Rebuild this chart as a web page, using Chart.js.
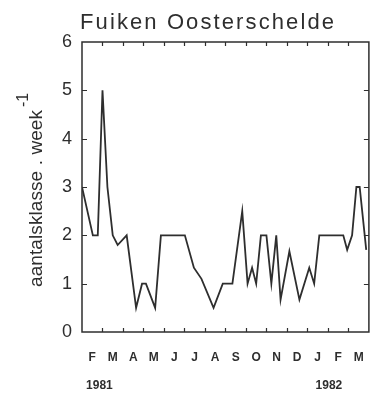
<!DOCTYPE html>
<html>
<head>
<meta charset="utf-8">
<script src="https://cdn.jsdelivr.net/npm/chart.js@4/dist/chart.umd.min.js"></script>
<style>
  html, body { margin: 0; padding: 0; background: #fff; }
  #wrap { width: 382px; height: 394px; }
</style>
</head>
<body>
<div id="wrap"><canvas id="c" width="382" height="394"></canvas></div>
<script>
// Fyke-net catches in the Oosterschelde, Feb 1981 – Mar 1982
const TITLE = 'Fuiken Oosterschelde';
const Y_TITLE = 'aantalsklasse . week';
const Y_TITLE_SUP = '-1';
const MONTH_LABELS = ['F', 'M', 'A', 'M', 'J', 'J', 'A', 'S', 'O', 'N', 'D', 'J', 'F', 'M'];
const YEAR_LABELS = ['1981', '1982'];
const YEAR_AT_MONTH = [0.85, 12.05];           // centre of each year label, months since 1 Feb 1981
const Y_TICKS = [0, 1, 2, 3, 4, 5, 6];

// sampling moments (months since 1 Feb 1981) and catch per week
const SAMPLE_MONTHS = [0, 0.53, 0.77, 1.0, 1.24, 1.5, 1.74, 2.18, 2.64, 2.93,
  3.12, 3.57, 3.85, 5.02, 5.46, 5.83, 6.42, 6.87, 7.34, 7.82,
  8.08, 8.3, 8.5, 8.73, 9.0, 9.24, 9.48, 9.69, 10.12, 10.61,
  11.09, 11.33, 11.58, 12.75, 12.94, 13.18, 13.39, 13.55, 13.87];
const CATCH_VALUES = [3, 2, 2, 5, 3, 2, 1.8, 2, 0.5, 1,
  1, 0.5, 2, 2, 1.33, 1.1, 0.5, 1, 1, 2.5,
  1, 1.33, 1, 2, 2, 1, 2, 0.67, 1.67, 0.67,
  1.33, 1, 2, 2, 1.7, 2, 3, 3, 1.7];

const FONT = "'Liberation Sans', Arial, Helvetica, sans-serif";
const INK = '#2e2e2e';

// draws text so that it fills a given length, spreading the letters
function spacedText(ctx, text, x, y, length) {
  ctx.letterSpacing = '0px';
  const w = ctx.measureText(text).width;
  const sp = Math.max(0, (length - w) / (text.length - 1));
  ctx.letterSpacing = sp + 'px';
  ctx.fillText(text, x, y);
  ctx.letterSpacing = '0px';
}

const decorations = {
  id: 'decorations',
  afterDatasetsDraw(chart) {
    const { ctx, chartArea: a, scales: { x, y } } = chart;
    ctx.save();
    // frame
    ctx.strokeStyle = INK;
    ctx.lineWidth = 1.5;
    ctx.strokeRect(a.left, a.top, a.right - a.left, a.bottom - a.top);
    // inward month ticks, top and bottom
    ctx.lineWidth = 1.2;
    ctx.beginPath();
    for (let m = 1; m < MONTH_LABELS.length; m++) {
      const px = Math.round(x.getPixelForValue(m)) + 0.5;
      ctx.moveTo(px, a.top); ctx.lineTo(px, a.top + 4);
      ctx.moveTo(px, a.bottom); ctx.lineTo(px, a.bottom - 4);
    }
    // inward value ticks, left and right
    Y_TICKS.slice(1, -1).forEach(v => {
      const py = Math.round(y.getPixelForValue(v)) + 0.5;
      ctx.moveTo(a.left, py); ctx.lineTo(a.left + 5, py);
      ctx.moveTo(a.right, py); ctx.lineTo(a.right - 5, py);
    });
    ctx.stroke();

    ctx.fillStyle = INK;
    // title
    ctx.font = '22px ' + FONT;
    ctx.textAlign = 'left';
    ctx.textBaseline = 'alphabetic';
    spacedText(ctx, TITLE, 80, 29, 254);

    // year labels
    ctx.font = 'bold 12px ' + FONT;
    ctx.textAlign = 'center';
    ctx.textBaseline = 'middle';
    YEAR_LABELS.forEach((t, i) => {
      ctx.fillText(t, x.getPixelForValue(YEAR_AT_MONTH[i]), 386);
    });

    // vertical axis title with superscript
    ctx.save();
    ctx.translate(42, 287);
    ctx.rotate(-Math.PI / 2);
    ctx.textAlign = 'left';
    ctx.textBaseline = 'alphabetic';
    ctx.font = '19px ' + FONT;
    spacedText(ctx, Y_TITLE, 0, 0, 177);
    ctx.font = '16px ' + FONT;
    ctx.fillText(Y_TITLE_SUP, 180, -14);
    ctx.restore();

    ctx.restore();
  }
};

new Chart(document.getElementById('c'), {
  type: 'line',
  data: {
    datasets: [{
      data: SAMPLE_MONTHS.map((m, i) => ({ x: m, y: CATCH_VALUES[i] })),
      borderColor: INK,
      borderWidth: 1.8,
      pointRadius: 0,
      tension: 0,
      fill: false
    }]
  },
  options: {
    responsive: false,
    animation: false,
    devicePixelRatio: 1,
    layout: { padding: { top: 42, right: 10, left: 0, bottom: 0 } },
    plugins: { legend: { display: false }, title: { display: false }, tooltip: { enabled: false } },
    scales: {
      x: {
        type: 'linear',
        min: 0,
        max: MONTH_LABELS.length,
        grid: { display: false, drawTicks: false },
        border: { display: false },
        afterBuildTicks: s => { s.ticks = MONTH_LABELS.map((_, i) => ({ value: i + 0.5 })); },
        afterFit: s => { s.height = 62; },
        ticks: {
          autoSkip: false,
          maxRotation: 0,
          padding: 18,
          color: INK,
          font: { family: FONT, size: 12, weight: 'bold' },
          callback: v => MONTH_LABELS[Math.round(v - 0.5)]
        }
      },
      y: {
        min: Y_TICKS[0],
        max: Y_TICKS[Y_TICKS.length - 1],
        grid: { display: false, drawTicks: false },
        border: { display: false },
        afterBuildTicks: s => { s.ticks = Y_TICKS.map(v => ({ value: v })); },
        afterFit: s => { s.width = 82; },
        ticks: {
          padding: 10,
          color: INK,
          font: { family: FONT, size: 18 },
          callback: v => String(v)
        }
      }
    }
  },
  plugins: [decorations]
});
</script>
</body>
</html>
